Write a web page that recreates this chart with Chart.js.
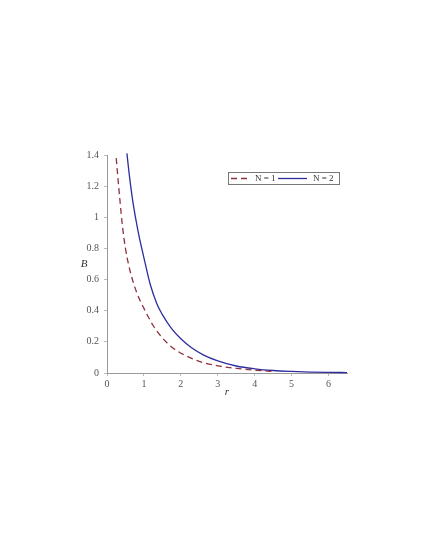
<!DOCTYPE html>
<html>
<head>
<meta charset="utf-8">
<script src="https://cdn.jsdelivr.net/npm/chart.js@4"></script>
<style>
  html, body { margin: 0; padding: 0; background: #fff; }
  #wrap { position: absolute; left: 0; top: 0; width: 425px; height: 550px; }
</style>
</head>
<body>
<div id="wrap"><canvas id="chart"></canvas></div>
<script>
// Werte
const rN1 = [0.25, 0.3, 0.35, 0.42, 0.5, 0.6, 0.72, 0.85, 1.0, 1.25, 1.5, 1.8, 2.26, 2.62, 3.0, 3.5, 4.0, 4.5];
const bN1 = [1.38, 1.24, 1.11, 0.94, 0.8, 0.68, 0.575, 0.49, 0.415, 0.305, 0.225, 0.158, 0.097, 0.066, 0.046, 0.03, 0.018, 0.01];

const rN2 = [0.54, 0.6, 0.7, 0.85, 1.0, 1.17, 1.35, 1.5, 1.75, 2.0, 2.3, 2.62, 3.0, 3.5, 4.0, 4.5, 5.0, 5.5, 6.0, 6.5];
const bN2 = [1.41, 1.28, 1.1, 0.9, 0.74, 0.57, 0.445, 0.375, 0.285, 0.22, 0.16, 0.115, 0.078, 0.045, 0.027, 0.016, 0.01, 0.006, 0.004, 0.003];

const seriesLabels = ['N = 1', 'N = 2'];
const xTicks = [0, 1, 2, 3, 4, 5, 6];
const yTicks = [0, 0.2, 0.4, 0.6, 0.8, 1, 1.2, 1.4];

const toPoints = (xs, ys) => xs.map((x, i) => ({ x: x, y: ys[i] }));

const FONT = 'Liberation Serif';
const RED = 'rgb(140, 50, 60)';
const BLUE = 'rgb(45, 45, 160)';

// Achsentitel (aufrecht) und Legende im Plotbereich
const overlay = {
    id: 'overlay',
    afterDraw(chart) {
        const { ctx, chartArea: a } = chart;
        ctx.save();
        ctx.fillStyle = '#333';
        ctx.font = 'italic 11px "' + FONT + '"';
        ctx.textAlign = 'center';
        ctx.textBaseline = 'middle';
        ctx.fillText('B', a.left - 23, (a.top + a.bottom) / 2);
        ctx.fillText('r', (a.left + a.right) / 2, a.bottom + 19);

        // Legende
        const lx = a.left + 121, ly = a.top + 17;
        ctx.strokeStyle = '#777';
        ctx.lineWidth = 1;
        ctx.strokeRect(lx + 0.5, ly + 0.5, 111, 12);
        const ds = chart.data.datasets;
        const items = [
            { x0: lx + 3, x1: lx + 23, tx: lx + 27 },
            { x0: lx + 50, x1: lx + 79, tx: lx + 85 }
        ];
        ctx.font = '9px "' + FONT + '"';
        ctx.textAlign = 'left';
        items.forEach((it, i) => {
            ctx.beginPath();
            ctx.strokeStyle = ds[i].borderColor;
            ctx.lineWidth = 1.3;
            ctx.setLineDash(ds[i].borderDash || []);
            ctx.moveTo(it.x0, ly + 6.5);
            ctx.lineTo(it.x1, ly + 6.5);
            ctx.stroke();
            ctx.setLineDash([]);
            ctx.fillStyle = '#333';
            ctx.fillText(ds[i].label, it.tx, ly + 7);
        });
        ctx.restore();
    }
};

new Chart(document.getElementById('chart'), {
    type: 'line',
    data: {
        datasets: [{
            label: seriesLabels[0],
            data: toPoints(rN1, bN1),
            borderColor: RED,
            borderWidth: 1.3,
            borderDash: [6, 4],
            pointRadius: 0,
            cubicInterpolationMode: 'monotone',
            clip: false
        }, {
            label: seriesLabels[1],
            data: toPoints(rN2, bN2),
            borderColor: BLUE,
            borderWidth: 1.3,
            pointRadius: 0,
            cubicInterpolationMode: 'monotone',
            clip: false
        }]
    },
    options: {
        responsive: true,
        maintainAspectRatio: false,
        animation: false,
        layout: { padding: { left: 77, right: 78, top: 155, bottom: 147 } },
        plugins: {
            legend: { display: false },
            tooltip: { enabled: false }
        },
        scales: {
            x: {
                type: 'linear',
                min: 0,
                max: 6.5,
                afterBuildTicks: s => { s.ticks = xTicks.map(v => ({ value: v })); },
                afterFit: s => { s.height = 30; },
                border: { color: '#999' },
                grid: { drawOnChartArea: false, tickLength: 3, color: '#bbb' },
                ticks: { padding: 2, color: '#555', font: { family: FONT, size: 10 }, callback: v => String(v) }
            },
            y: {
                min: 0,
                max: 1.4,
                afterBuildTicks: s => { s.ticks = yTicks.map(v => ({ value: v })); },
                afterFit: s => { s.width = 30; },
                border: { color: '#999' },
                grid: { drawOnChartArea: false, tickLength: 3, color: '#bbb' },
                ticks: { padding: 5, color: '#555', font: { family: FONT, size: 10 }, callback: v => String(Number(v.toFixed(1))) }
            }
        }
    },
    plugins: [overlay]
});
</script>
</body>
</html>
